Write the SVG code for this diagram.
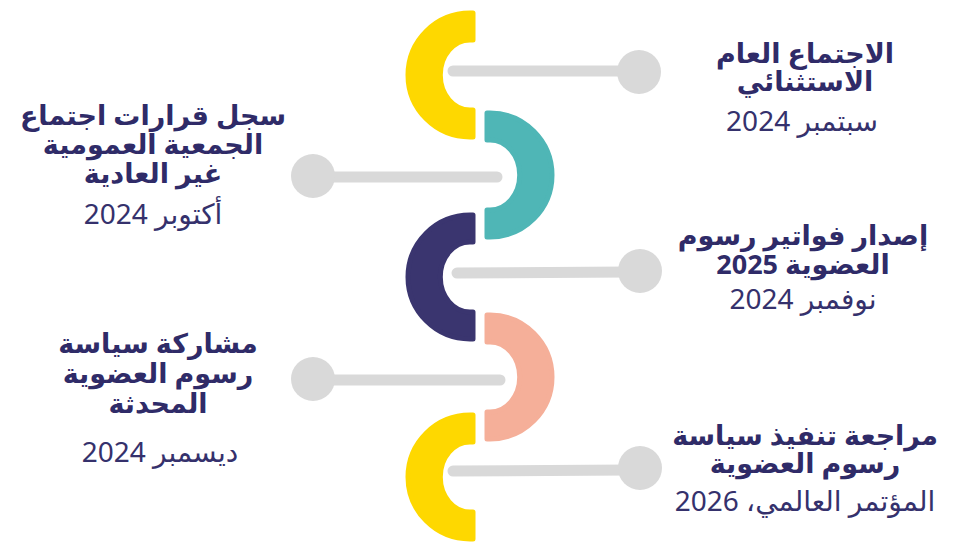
<svg xmlns="http://www.w3.org/2000/svg" width="972" height="543" viewBox="0 0 972 543">
<style>
.conn line{stroke:#D9D9D9;stroke-width:11;stroke-linecap:round}
.conn circle{fill:#D9D9D9}
.seg{stroke-width:5;stroke-linejoin:round}
.h{font-family:"Noto Sans","DejaVu Sans",sans-serif;font-weight:bold;font-size:27px;fill:#2F2B68;text-anchor:middle;direction:rtl;unicode-bidi:embed}
.d{font-family:"Noto Sans","DejaVu Sans",sans-serif;font-size:28px;fill:#35316C;text-anchor:middle;direction:rtl;unicode-bidi:embed}
</style>
<rect width="972" height="543" fill="#FFFFFF"/>
<defs>
<path id="cl" d="M3,-62 L0,-62 A62,62 0 0 0 0,62 L3,62 L3,35 L0,35 A28,33 0 0 1 0,-35 L3,-35 Z"/>
<path id="cr" d="M-3,-62 L0,-62 A62,62 0 0 1 0,62 L-3,62 L-3,35 L0,35 A28,33 0 0 0 0,-35 L-3,-35 Z"/>
</defs>
<g id="connectors" class="conn">
<line x1="453" y1="71" x2="630" y2="71"/><circle cx="639" cy="72" r="22"/>
<line x1="320" y1="177" x2="497" y2="177"/><circle cx="313" cy="176" r="22"/>
<line x1="457" y1="273" x2="630" y2="272"/><circle cx="640" cy="271" r="22"/>
<line x1="320" y1="380" x2="500" y2="380"/><circle cx="313" cy="379" r="22"/>
<line x1="453" y1="471" x2="630" y2="470"/><circle cx="640" cy="468" r="22"/>
</g>
<g id="seg1"><use href="#cl" x="470" y="75" class="seg" fill="#FED800" stroke="#FED800"/></g>
<g id="seg2"><use href="#cr" x="490" y="175" class="seg" fill="#4FB6B6" stroke="#4FB6B6"/></g>
<g id="seg3"><use href="#cl" x="470" y="277" class="seg" fill="#3A356F" stroke="#3A356F"/></g>
<g id="seg4"><use href="#cr" x="490" y="377" class="seg" fill="#F5AF99" stroke="#F5AF99"/></g>
<g id="seg5"><use href="#cl" x="470" y="477" class="seg" fill="#FED800" stroke="#FED800"/></g>
<g id="node1">
<text class="h" x="805" y="63">الاجتماع العام</text>
<text class="h" x="805" y="91">الاستثنائي</text>
<text class="d" x="802" y="131">سبتمبر 2024</text>
</g>
<g id="node2">
<text class="h" x="153" y="125">سجل قرارات اجتماع</text>
<text class="h" x="153" y="154">الجمعية العمومية</text>
<text class="h" x="153" y="183">غير العادية</text>
<text class="d" x="153" y="224">أكتوبر 2024</text>
</g>
<g id="node3">
<text class="h" x="803" y="245">إصدار فواتير رسوم</text>
<text class="h" x="803" y="274">العضوية 2025</text>
<text class="d" x="803" y="309">نوفمبر 2024</text>
</g>
<g id="node4">
<text class="h" x="158" y="353">مشاركة سياسة</text>
<text class="h" x="158" y="383">رسوم العضوية</text>
<text class="h" x="158" y="413">المحدثة</text>
<text class="d" x="160" y="462">ديسمبر 2024</text>
</g>
<g id="node5">
<text class="h" x="805" y="445">مراجعة تنفيذ سياسة</text>
<text class="h" x="805" y="473">رسوم العضوية</text>
<text class="d" x="805" y="511">المؤتمر العالمي، 2026</text>
</g>
</svg>
